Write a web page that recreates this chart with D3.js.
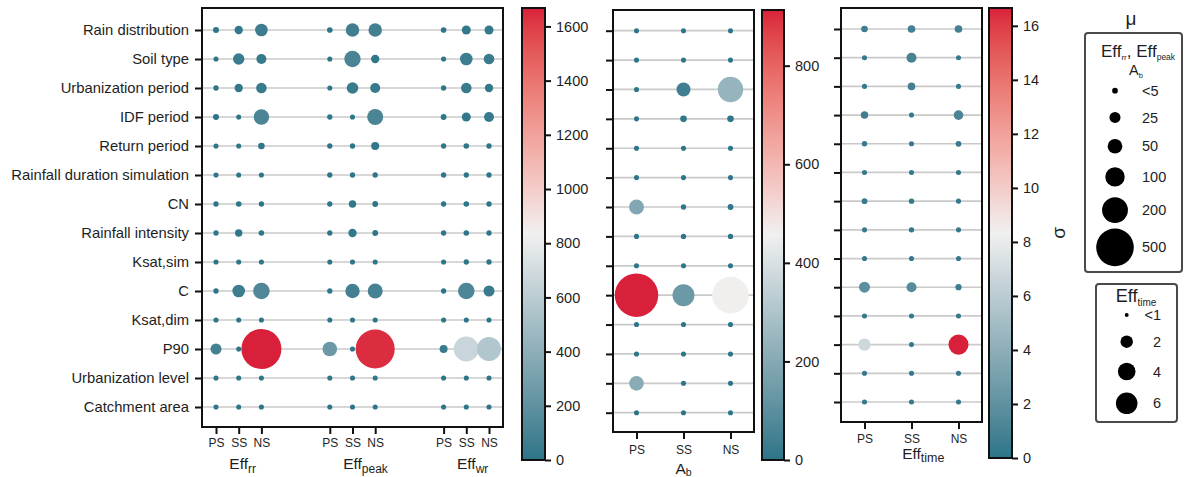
<!DOCTYPE html>
<html>
<head>
<meta charset="utf-8">
<script src="https://cdn.jsdelivr.net/npm/d3@7"></script>
<style>
  html, body { margin: 0; padding: 0; background: #fff; }
  svg { display: block; }
  text { font-family: "Liberation Sans", Arial, Helvetica, sans-serif; fill: #1e1e1e; }
</style>
</head>
<body>
<svg id="chart" width="1187" height="477"></svg>
<script>
// Rows shared by every panel
const factors = [
  "Rain distribution", "Soil type", "Urbanization period", "IDF period",
  "Return period", "Rainfall duration simulation", "CN", "Rainfall intensity",
  "Ksat,sim", "C", "Ksat,dim", "P90", "Urbanization level", "Catchment area"
];
const classes = ["PS", "SS", "NS"];
const effGroups = ["rr", "peak", "wr"];

// Morris mean of absolute effects (μ) per factor, columns [PS, SS, NS]
const muRr = [
  [5.7, 12.9, 34.8], [3.8, 27.3, 19.8], [4.2, 12.9, 22.8], [5.7, 3.8, 56.8],
  [3.8, 3.8, 7.2], [3.8, 3.8, 3.8], [4.2, 4.8, 4.2], [4.2, 9.5, 4.8],
  [3.8, 3.8, 3.8], [4.2, 34.8, 68], [3.8, 3.8, 3.8], [25, 3.8, 582],
  [3.8, 3.8, 3.8], [3.8, 3.8, 3.8]
];
const muPeak = [
  [4.8, 41, 41], [3.8, 66, 12.9], [3.8, 28.4, 19.8], [4.2, 3.8, 62],
  [4.2, 4.2, 11.5], [4.2, 4.2, 4.2], [4.2, 9.5, 5.2], [4.2, 12.9, 5.2],
  [3.8, 3.8, 3.8], [4.2, 48, 53], [3.8, 3.8, 3.8], [50, 3.8, 548],
  [3.8, 3.8, 3.8], [3.8, 3.8, 3.8]
];
const muWr = [
  [4.8, 15.3, 15.3], [3.8, 34.8, 22.8], [4.2, 22.8, 12.9], [5.2, 15.3, 19.8],
  [4.2, 4.8, 4.2], [4.2, 4.2, 4.2], [4.2, 4.8, 4.2], [4.2, 4.8, 4.2],
  [3.8, 4.2, 4.2], [4.2, 68, 25], [3.8, 3.8, 3.8], [11.5, 185, 167],
  [3.8, 3.8, 3.8], [3.8, 3.8, 3.8]
];
const muAb = [
  [3.8, 3.8, 3.8], [3.8, 3.8, 3.8], [3.8, 45, 192], [3.8, 7.2, 7.2],
  [3.8, 3.8, 3.8], [3.8, 3.8, 3.8], [53, 4.2, 5.2], [3.8, 4.2, 4.2],
  [3.8, 3.8, 3.8], [713, 135, 470], [3.8, 3.8, 3.8], [3.8, 3.8, 3.8],
  [50, 3.8, 3.8], [3.8, 3.8, 3.8]
];
const muTime = [
  [0.56, 0.75, 0.75], [0.33, 1.29, 0.33], [0.33, 0.75, 0.33], [0.71, 0.33, 1.19],
  [0.38, 0.33, 0.42], [0.33, 0.33, 0.33], [0.42, 0.38, 0.33], [0.33, 0.38, 0.33],
  [0.33, 0.33, 0.33], [1.56, 1.29, 0.5], [0.33, 0.33, 0.33], [1.99, 0.33, 5.17],
  [0.33, 0.33, 0.33], [0.33, 0.33, 0.33]
];

// Standard deviation of effects (σ) per factor, columns [PS, SS, NS]
const sigmaRr = [
  [8, 22, 60], [4, 50, 35], [5, 20, 40], [8, 4, 110],
  [4, 4, 12], [4, 4, 4], [5, 6, 5], [5, 15, 6],
  [4, 4, 4], [5, 60, 130], [4, 4, 4], [80, 4, 1668],
  [4, 4, 4], [4, 4, 4]
];
const sigmaPeak = [
  [6, 70, 75], [4, 110, 20], [4, 45, 35], [5, 4, 110],
  [5, 5, 18], [5, 5, 5], [5, 15, 7], [5, 20, 7],
  [4, 4, 4], [5, 80, 90], [4, 4, 4], [250, 4, 1640],
  [4, 4, 4], [4, 4, 4]
];
const sigmaWr = [
  [6, 25, 25], [4, 60, 40], [5, 40, 20], [7, 25, 35],
  [5, 6, 5], [5, 5, 5], [5, 6, 5], [5, 6, 5],
  [4, 5, 5], [5, 120, 45], [4, 4, 4], [40, 660, 560],
  [4, 4, 4], [4, 4, 4]
];
const sigmaAb = [
  [3, 3, 3], [3, 3, 3], [3, 40, 240], [3, 8, 8],
  [3, 3, 3], [3, 3, 3], [190, 4, 5], [3, 4, 4],
  [3, 3, 3], [913, 137, 460], [3, 3, 3], [3, 3, 3],
  [210, 3, 3], [3, 3, 3]
];
const sigmaTime = [
  [0.6, 0.8, 0.8], [0.3, 1.0, 0.3], [0.3, 0.8, 0.3], [0.7, 0.3, 1.1],
  [0.4, 0.3, 0.4], [0.3, 0.3, 0.3], [0.4, 0.3, 0.3], [0.3, 0.3, 0.3],
  [0.3, 0.3, 0.3], [1.8, 1.6, 0.6], [0.3, 0.3, 0.3], [6.8, 0.3, 16.66],
  [0.3, 0.3, 0.3], [0.3, 0.3, 0.3]
];

// Colour bar tick labels
const ticksEff = [0, 200, 400, 600, 800, 1000, 1200, 1400, 1600];
const ticksAb = [0, 200, 400, 600, 800];
const ticksTime = [0, 2, 4, 6, 8, 10, 12, 14, 16];

// Size legend entries
const legMain = [5, 25, 50, 100, 200, 500];
const legMainLabels = ["<5", "25", "50", "100", "200", "500"];
const legTime = [0.2, 2, 4, 6];
const legTimeLabels = ["<1", "2", "4", "6"];

// ---------------------------------------------------------------
const svg = d3.select("#chart");
const defs = svg.append("defs");

const LOW = "#2b7588", MID = "#f0f0f0", HIGH = "#d9203a";
const divergent = max => d3.scaleLinear()
  .domain([0, max / 2, max]).range([LOW, MID, HIGH]).interpolate(d3.interpolateLab);

const rMain = d3.scalePow().exponent(0.41).domain([0, 500]).range([0, 18.8]);
const rTime = d3.scaleSqrt().domain([0, 6]).range([0, 10.8]);

function styleAxis(sel, size) {
  sel.attr("font-family", null).attr("font-size", size);
  sel.select(".domain").remove();
  sel.selectAll(".tick line").attr("stroke", "#111").attr("stroke-width", 2);
  sel.selectAll(".tick text").attr("fill", "#1e1e1e");
}

function rowLines(g, y, box) {
  g.append("g").selectAll("line").data(factors).join("line")
    .attr("x1", box.left).attr("x2", box.right)
    .attr("y1", d => y(d)).attr("y2", d => y(d))
    .attr("stroke", "#cacaca").attr("stroke-width", 1.7);
}

function dots(g, points) {
  g.append("g").selectAll("circle").data(points).join("circle")
    .attr("cx", d => d.x).attr("cy", d => d.y)
    .attr("r", d => d.r).attr("fill", d => d.c);
}

function frame(g, box) {
  g.append("rect")
    .attr("x", box.left).attr("y", box.top)
    .attr("width", box.right - box.left).attr("height", box.bottom - box.top)
    .attr("fill", "none").attr("stroke", "#111").attr("stroke-width", 2);
}

function colorbar(id, box, max, ticks, color) {
  const grad = defs.append("linearGradient").attr("id", id)
    .attr("x1", 0).attr("y1", 1).attr("x2", 0).attr("y2", 0);
  d3.range(0, 1.0001, 0.02).forEach(t =>
    grad.append("stop").attr("offset", t).attr("stop-color", color(t * max)));
  const s = d3.scaleLinear().domain([0, max]).range([box.bottom, box.top]);
  svg.append("rect")
    .attr("x", box.left).attr("y", box.top)
    .attr("width", box.right - box.left).attr("height", box.bottom - box.top)
    .attr("fill", `url(#${id})`).attr("stroke", "#111").attr("stroke-width", 2);
  svg.append("g").attr("transform", `translate(${box.right},0)`)
    .call(d3.axisRight(s).tickValues(ticks).tickFormat(d3.format("d")).tickSize(6).tickPadding(5))
    .call(sel => styleAxis(sel, 14.5));
}

// ---------------- Panel 1: Eff_rr, Eff_peak, Eff_wr ----------------
const box1 = { left: 202, right: 503, top: 8, bottom: 427 };
const y1 = d3.scalePoint().domain(factors).range([30, 407]);
const gx = d3.scalePoint().domain(effGroups).range([box1.left, box1.right]).padding(0.3225);
const ix = d3.scalePoint().domain(classes).range([-22.7, 22.7]);
const mu1 = { rr: muRr, peak: muPeak, wr: muWr };
const sig1 = { rr: sigmaRr, peak: sigmaPeak, wr: sigmaWr };
const max1 = d3.max(effGroups, k => d3.max(sig1[k].flat()));
const c1 = divergent(max1);

const p1 = svg.append("g");
rowLines(p1, y1, box1);
const pts1 = [];
effGroups.forEach(k => factors.forEach((f, i) => classes.forEach((c, j) => {
  pts1.push({ x: gx(k) + ix(c), y: y1(f), r: rMain(mu1[k][i][j]), c: c1(sig1[k][i][j]) });
})));
dots(p1, pts1);
frame(p1, box1);

p1.append("g").attr("transform", `translate(${box1.left},0)`)
  .call(d3.axisLeft(y1).tickSize(7).tickPadding(6))
  .call(sel => styleAxis(sel, 14.8));

effGroups.forEach(k => {
  p1.append("g").attr("transform", `translate(${gx(k)},${box1.bottom})`)
    .call(d3.axisBottom(ix).tickSize(7).tickPadding(4.5))
    .call(sel => styleAxis(sel, 12));
});

const titles1 = p1.append("g").selectAll("text").data(effGroups).join("text")
  .attr("y", 469).attr("font-size", 15.5);
titles1.append("tspan").text("Eff");
titles1.append("tspan").attr("dy", 4).attr("font-size", 12).text(d => d);
titles1.each(function (d) {
  const w = this.firstChild.getComputedTextLength();
  d3.select(this).attr("x", gx(d) - w / 2);
});

colorbar("cb1", { left: 522, right: 545, top: 8, bottom: 460 }, max1, ticksEff, c1);

// ---------------- Panel 2: A_b ----------------
const box2 = { left: 613, right: 754, top: 10, bottom: 432 };
const y2 = d3.scalePoint().domain(factors).range([30.7, 412.7]);
const x2 = d3.scalePoint().domain(classes).range([box2.left, box2.right]).padding(0.5);
const max2 = d3.max(sigmaAb.flat());
const c2 = divergent(max2);

const p2 = svg.append("g");
rowLines(p2, y2, box2);
const pts2 = [];
factors.forEach((f, i) => classes.forEach((c, j) => {
  pts2.push({ x: x2(c), y: y2(f), r: rMain(muAb[i][j]), c: c2(sigmaAb[i][j]) });
}));
dots(p2, pts2);
frame(p2, box2);
p2.append("g").attr("transform", `translate(${box2.left},0)`)
  .call(d3.axisLeft(y2).tickSize(7).tickFormat(""))
  .call(sel => styleAxis(sel, 12));
p2.append("g").attr("transform", `translate(0,${box2.bottom})`)
  .call(d3.axisBottom(x2).tickSize(7).tickPadding(6))
  .call(sel => styleAxis(sel, 12));
const t2 = p2.append("text").attr("x", x2("SS")).attr("y", 474)
  .attr("text-anchor", "middle").attr("font-size", 15.5);
t2.append("tspan").text("A");
t2.append("tspan").attr("dy", 1.5).attr("font-size", 10.5).text("b");

colorbar("cb2", { left: 762, right: 784, top: 10, bottom: 460 }, max2, ticksAb, c2);

// ---------------- Panel 3: Eff_time ----------------
const box3 = { left: 841, right: 982, top: 8, bottom: 422 };
const y3 = d3.scalePoint().domain(factors).range([29, 402]);
const x3 = d3.scalePoint().domain(classes).range([box3.left, box3.right]).padding(0.5);
const max3 = d3.max(sigmaTime.flat());
const c3 = divergent(max3);

const p3 = svg.append("g");
rowLines(p3, y3, box3);
const pts3 = [];
factors.forEach((f, i) => classes.forEach((c, j) => {
  pts3.push({ x: x3(c), y: y3(f), r: rTime(muTime[i][j]), c: c3(sigmaTime[i][j]) });
}));
dots(p3, pts3);
frame(p3, box3);
p3.append("g").attr("transform", `translate(${box3.left},0)`)
  .call(d3.axisLeft(y3).tickSize(7).tickFormat(""))
  .call(sel => styleAxis(sel, 12));
p3.append("g").attr("transform", `translate(0,${box3.bottom})`)
  .call(d3.axisBottom(x3).tickSize(7).tickPadding(5))
  .call(sel => styleAxis(sel, 12));
const t3 = p3.append("text").attr("y", 459).attr("font-size", 15.5);
t3.append("tspan").text("Eff");
t3.append("tspan").attr("dy", 3).attr("font-size", 12.5).text("time");
t3.attr("x", x3("SS") - t3.node().firstChild.getComputedTextLength() / 2);

colorbar("cb3", { left: 989, right: 1012, top: 8, bottom: 458 }, max3, ticksTime, c3);

svg.append("text").attr("transform", "translate(1058,233) rotate(-90)")
  .attr("text-anchor", "middle").attr("dy", "0.35em").attr("font-size", 19).text("σ");

// ---------------- Size legends ----------------
function stack(values, r, y0) {
  const ys = [y0];
  for (let i = 1; i < values.length; i++) {
    ys.push(ys[i - 1] + 23 + 0.45 * (r(values[i - 1]) + r(values[i])));
  }
  return ys;
}

svg.append("text").attr("x", 1131).attr("y", 25).attr("text-anchor", "middle")
  .attr("font-size", 19).text("μ");

const leg1 = svg.append("g");
leg1.append("rect").attr("x", 1085).attr("y", 33).attr("width", 97).attr("height", 239)
  .attr("rx", 3).attr("fill", "#fff").attr("stroke", "#4a4a4a").attr("stroke-width", 2);
const lt1 = leg1.append("text").attr("x", 1138).attr("y", 57)
  .attr("text-anchor", "middle").attr("font-size", 17);
lt1.append("tspan").text("Eff");
lt1.append("tspan").attr("dy", 3).attr("font-size", 8).text("rr");
lt1.append("tspan").attr("dy", -3).text(", Eff");
lt1.append("tspan").attr("dy", 3).attr("font-size", 8.5).text("peak");
const lt1b = leg1.append("text").attr("x", 1136).attr("y", 75)
  .attr("text-anchor", "middle").attr("font-size", 14.5);
lt1b.append("tspan").text("A");
lt1b.append("tspan").attr("dy", 3).attr("font-size", 7.5).text("b");

const ys1 = stack(legMain, rMain, 90.7);
leg1.append("g").selectAll("circle").data(legMain).join("circle")
  .attr("cx", 1115).attr("cy", (d, i) => ys1[i]).attr("r", d => rMain(d)).attr("fill", "#000");
leg1.append("g").selectAll("text").data(legMainLabels).join("text")
  .attr("x", 1142).attr("y", (d, i) => ys1[i]).attr("dy", "0.35em")
  .attr("font-size", 14.5).text(d => d);

const leg2 = svg.append("g");
leg2.append("rect").attr("x", 1096).attr("y", 284).attr("width", 81).attr("height", 138)
  .attr("rx", 3).attr("fill", "#fff").attr("stroke", "#4a4a4a").attr("stroke-width", 2);
const lt2 = leg2.append("text").attr("y", 302).attr("font-size", 18);
lt2.append("tspan").text("Eff");
lt2.append("tspan").attr("dy", 4).attr("font-size", 10).text("time");
lt2.attr("x", 1126.7 - lt2.node().firstChild.getComputedTextLength() / 2);

const ys2 = stack(legTime, rTime, 315);
leg2.append("g").selectAll("circle").data(legTime).join("circle")
  .attr("cx", 1126.7).attr("cy", (d, i) => ys2[i]).attr("r", d => rTime(d)).attr("fill", "#000");
leg2.append("g").selectAll("text").data(legTimeLabels).join("text")
  .attr("x", 1161).attr("y", (d, i) => ys2[i]).attr("dy", "0.35em")
  .attr("text-anchor", "end").attr("font-size", 14.5).text(d => d);
</script>
</body>
</html>
